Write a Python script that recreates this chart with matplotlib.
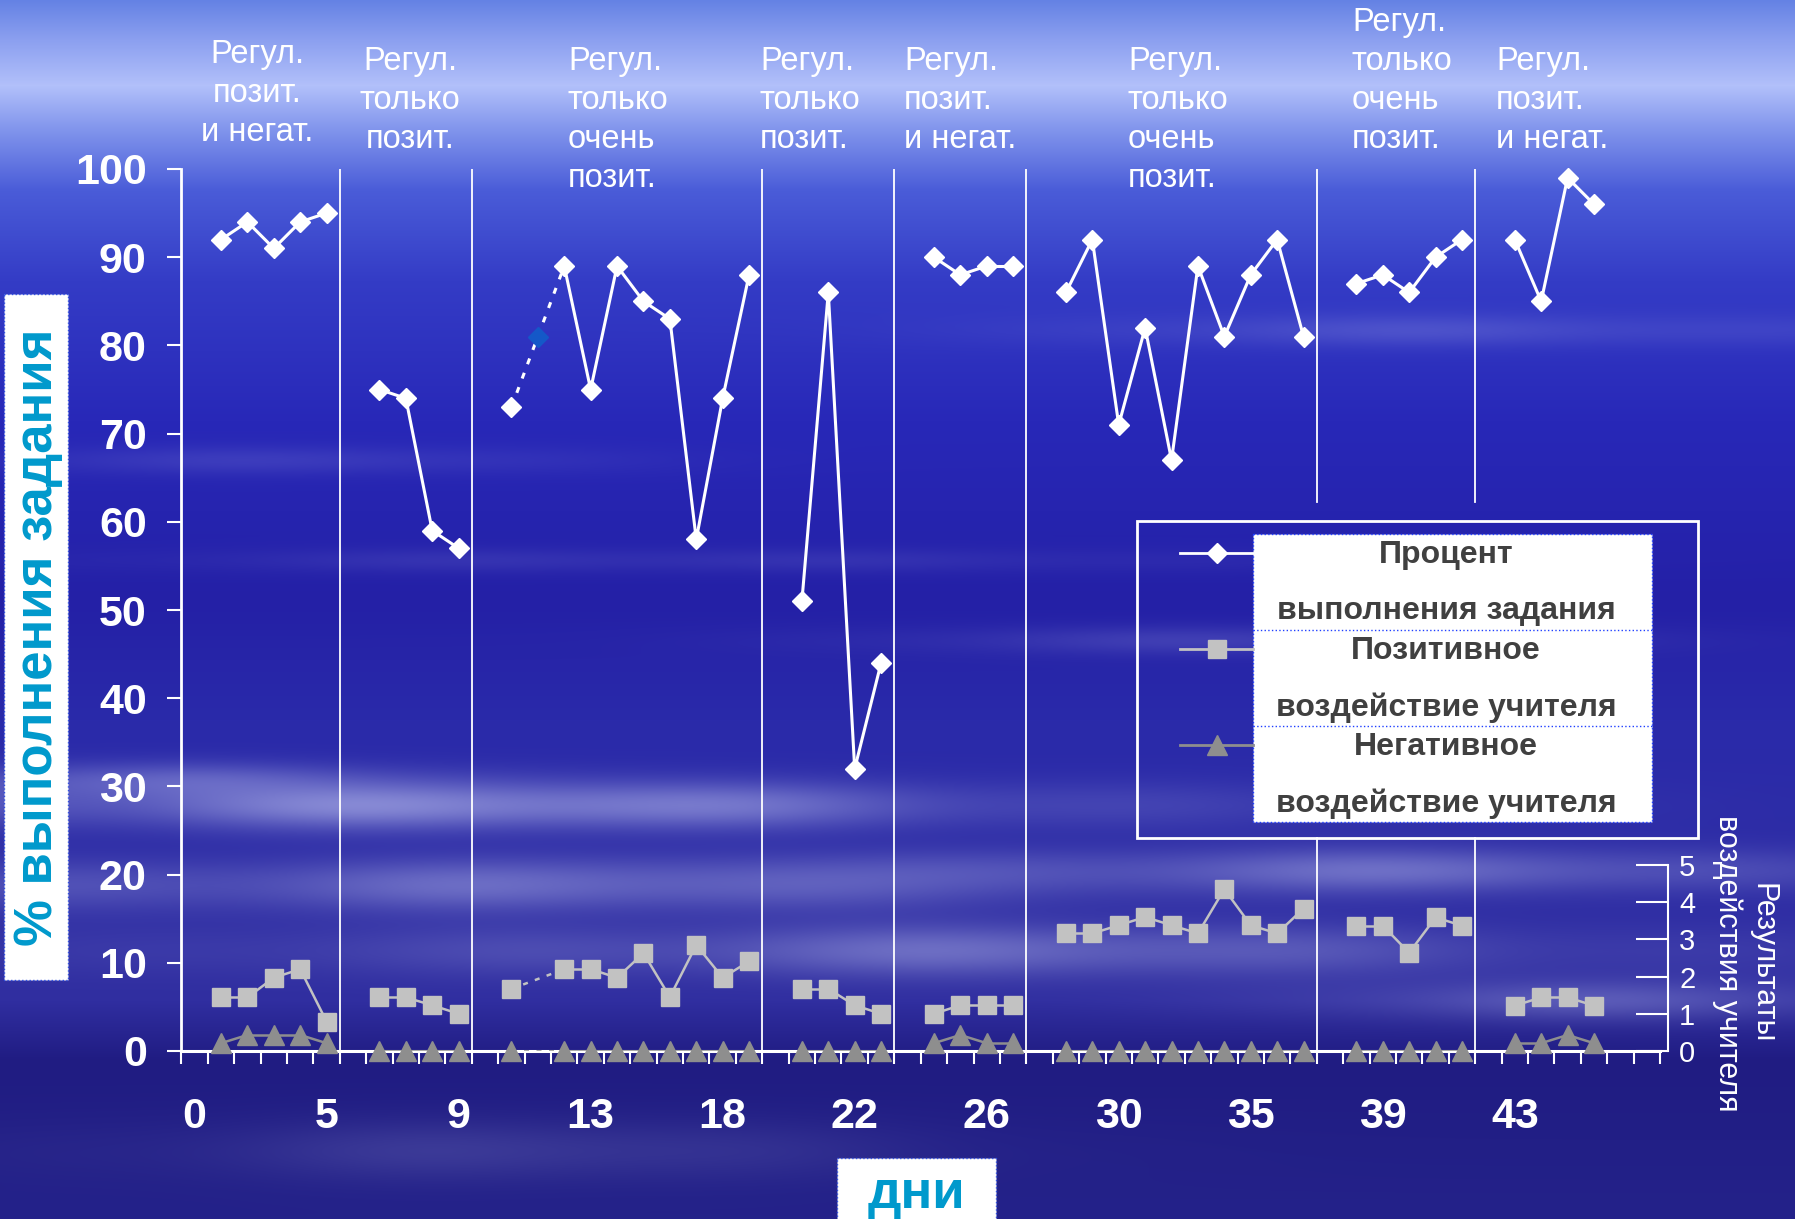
import numpy as np
import matplotlib
matplotlib.use('Agg')
import matplotlib.pyplot as plt
from matplotlib.patches import Rectangle
from matplotlib.ticker import NullFormatter

plt.rcParams['font.family'] = ['Liberation Sans', 'DejaVu Sans']

# ---------------- data ----------------
phase_labels = ['Регул.\nпозит.\nи негат.',
                'Регул.\nтолько\nпозит.',
                'Регул.\nтолько\nочень\nпозит.',
                'Регул.\nтолько\nпозит.',
                'Регул.\nпозит.\nи негат.',
                'Регул.\nтолько\nочень\nпозит.',
                'Регул.\nтолько\nочень\nпозит.',
                'Регул.\nпозит.\nи негат.']
phase_first_day = [1, 6, 10, 20, 24, 28, 38, 43]

# % of task done (left axis)
task_pct = [[92, 94, 91, 94, 95],
            [75, 74, 59, 57],
            [73, 81, 89, 75, 89, 85, 83, 58, 74, 88],
            [51, 86, 32, 44],
            [90, 88, 89, 89],
            [86, 92, 71, 82, 67, 89, 81, 88, 92, 81],
            [87, 88, 86, 90, 92],
            [92, 85, 99, 96]]
# teacher influence (right axis)
positive = [[1.44, 1.44, 1.97, 2.2, 0.79],
            [1.44, 1.44, 1.23, 1.0],
            [1.67, None, 2.2, 2.2, 1.97, 2.63, 1.45, 2.85, 1.97, 2.41],
            [1.67, 1.67, 1.23, 1.0],
            [1.0, 1.23, 1.23, 1.23],
            [3.16, 3.16, 3.38, 3.6, 3.38, 3.16, 4.35, 3.38, 3.16, 3.83],
            [3.37, 3.37, 2.64, 3.59, 3.37],
            [1.22, 1.44, 1.44, 1.22]]
negative = [[0.21, 0.43, 0.43, 0.43, 0.21],
            [0, 0, 0, 0],
            [0, None, 0, 0, 0, 0, 0, 0, 0, 0],
            [0, 0, 0, 0],
            [0.21, 0.43, 0.21, 0.21],
            [0, 0, 0, 0, 0, 0, 0, 0, 0, 0],
            [0, 0, 0, 0, 0],
            [0.21, 0.21, 0.43, 0.21]]
estimated_day = 11   # value for this day is estimated (blue marker, dotted)

legend_rows = [('Процент', 'выполнения задания'),
               ('Позитивное', 'воздействие учителя'),
               ('Негативное', 'воздействие учителя')]

# category axis: days, one empty slot after each phase
days = ['0']
for first, vals in zip(phase_first_day, task_pct):
    days += [str(first + k) for k in range(len(vals))] + ['']

# ---------------- figure ----------------
W, H = 1795, 1219
fig = plt.figure(figsize=(W / 100, H / 100), dpi=100)

# background: blue sky / water gradient with soft haze streaks
ys = np.arange(H)
stop_y = [0, 40, 85, 130, 190, 280, 420, 600, 720, 1000, 1060, 1219]
stop_c = [(100, 130, 228), (140, 160, 240), (178, 192, 250), (128, 148, 236),
          (74, 92, 216), (52, 60, 198), (40, 40, 184), (36, 32, 166),
          (42, 42, 170), (48, 46, 160), (32, 28, 130), (36, 34, 138)]
base = np.stack([np.interp(ys, stop_y, [c[i] for c in stop_c]) for i in range(3)], -1)
img = np.repeat(base[:, None, :], W, axis=1)
yy = ys[:, None]
xx = np.arange(W)[None, :]
haze = [(450, 805, 650, 24, 0.45), (450, 885, 520, 26, 0.35), (1350, 870, 520, 22, 0.3),
        (950, 950, 650, 26, 0.3), (1500, 330, 420, 16, 0.15), (250, 460, 320, 14, 0.12),
        (1600, 1000, 300, 20, 0.2), (500, 1150, 400, 30, 0.12), (700, 560, 500, 12, 0.1),
        (1250, 640, 380, 14, 0.12), (150, 780, 260, 18, 0.3)]
cloud = np.array([205, 210, 248])
for cx, cy, sx, sy, a in haze:
    wobble = 1 + 0.35 * np.sin(xx / 97.0 + cy) * np.sin(xx / 233.0 + cx)
    g = a * wobble * np.exp(-((xx - cx) / sx) ** 2 - ((yy - cy) / sy) ** 2)
    img = img + (cloud - img) * np.clip(g, 0, 1)[..., None]
bg = fig.add_axes([0, 0, 1, 1], zorder=0)
bg.imshow(np.clip(img, 0, 255).astype(np.uint8), extent=(0, W, H, 0), aspect='auto')
bg.set_axis_off()


def px_rect(x0, y0, x1, y1):
    return [x0 / W, 1 - y1 / H, (x1 - x0) / W, (y1 - y0) / H]


AX_L, AX_R, AX_T, AX_B = 181.4, 1660, 169, 1051
ax = fig.add_axes(px_rect(AX_L, AX_T, AX_R, AX_B), zorder=2)
ax.patch.set_visible(False)
ax.set_xlim(-0.5, 55.5)
ax.set_ylim(0, 100)
for s in ['top', 'right']:
    ax.spines[s].set_visible(False)
ax.spines['left'].set_color('white')
ax.spines['left'].set_linewidth(2)
ax.spines['bottom'].set_color('white')
ax.spines['bottom'].set_linewidth(2.2)

ax.set_yticks(range(0, 101, 10))
ax.tick_params(axis='y', colors='white', labelsize=31, length=10, width=1.5, pad=15)
for lab in ax.get_yticklabels():
    lab.set_fontweight('bold')

ax.set_xticks(np.arange(-0.5, 56, 1))
ax.xaxis.set_major_formatter(NullFormatter())
label_idx = list(range(0, 51, 5))
ax.set_xticks(label_idx, minor=True)
ax.set_xticklabels([days[i] for i in label_idx], minor=True, fontweight='bold')
ax.tick_params(axis='x', which='major', colors='white', length=9.4, width=1.5)
ax.tick_params(axis='x', which='minor', length=0, pad=33, labelsize=31, labelcolor='white')

px_per_unit2 = 37.2
ax2 = ax.twinx()
ax2.set_ylim(0, (AX_B - AX_T) / px_per_unit2)
for s in ['top', 'left', 'bottom']:
    ax2.spines[s].set_visible(False)
ax2.spines['right'].set_position(('axes', 1.0054))
ax2.spines['right'].set_bounds(0, 5)
ax2.spines['right'].set_color('white')
ax2.spines['right'].set_linewidth(1.5)
ax2.set_yticks(range(6))
ax2.tick_params(axis='y', colors='white', labelsize=21, direction='in', length=22.7,
                width=1.5, pad=8)

# phase change lines (broken where the legend sits)
legend_box = (1137, 520.5, 1697.5, 838)
hide_lo = (AX_B - legend_box[3]) / (AX_B - AX_T) * 100
hide_hi = (AX_B - 502) / (AX_B - AX_T) * 100
gap_idx = [i for i, d in enumerate(days) if d == ''][:-1]
for g in gap_idx:
    x = g - 0.5
    xpix = AX_L + (x + 0.5) * (AX_R - AX_L) / 56
    if legend_box[0] < xpix < legend_box[2]:
        ax.plot([x, x], [0, hide_lo], color='white', lw=1.3, zorder=1)
        ax.plot([x, x], [hide_hi, 100], color='white', lw=1.3, zorder=1)
    else:
        ax.plot([x, x], [0, 100], color='white', lw=1.3, zorder=1)


def draw_phase(axis, xs, vals, dlist, color, lw, marker, ms, est_color=None):
    pts = [(x, v, d) for x, v, d in zip(xs, vals, dlist) if v is not None]
    for (x0, y0, d0), (x1, y1, d1) in zip(pts[:-1], pts[1:]):
        dotted = (x1 - x0 > 1) or estimated_day in (d0, d1)
        axis.plot([x0, x1], [y0, y1], color=color, lw=lw,
                  ls=(0, (2, 3)) if dotted else '-', zorder=3)
    for x, v, d in pts:
        c = est_color if (est_color and d == estimated_day) else color
        axis.plot(x, v, marker=marker, ms=ms, color=c, mec=c, ls='none',
                  zorder=4, clip_on=False)


for k, first in enumerate(phase_first_day):
    dl = [first + j for j in range(len(task_pct[k]))]
    xs = [days.index(str(d)) for d in dl]
    draw_phase(ax2, xs, negative[k], dl, '#8e8e8e', 1.8, '^', 15)
    draw_phase(ax2, xs, positive[k], dl, '#c2c2c2', 1.8, 's', 13)
    draw_phase(ax, xs, task_pct[k], dl, 'white', 2.2, 'D', 10.5, est_color='#1458c8')

# ---------------- overlay: titles, legend, phase labels ----------------
ov = fig.add_axes([0, 0, 1, 1], zorder=5)
ov.set_xlim(0, W)
ov.set_ylim(H, 0)
ov.set_axis_off()

label_pos = [(257, 'center', 39), (410, 'center', 46), (568, 'left', 46), (760, 'left', 46),
             (904, 'left', 46), (1128, 'left', 46), (1352, 'left', 7), (1496, 'left', 46)]
for txt, (x, ha, y) in zip(phase_labels, label_pos):
    ov.text(x, y, txt, ha=ha, va='top', color='white', fontsize=23.5, linespacing=1.33)

# y axis title
ov.add_patch(Rectangle((4, 294), 64, 686, fc='white', ec='#3050e0', ls=':', lw=1))
ov.text(38, 637, '% выполнения задания', rotation=90, ha='center', va='center',
        color='#0099cc', fontsize=38, fontweight='bold')

# x axis title
ov.add_patch(Rectangle((837, 1158), 159, 80, fc='white', ec='#3050e0', ls=':', lw=1))
ov.text(916, 1208, 'дни', ha='center', va='baseline', color='#0099cc',
        fontsize=38, fontweight='bold')

# right axis title
ov.text(1745, 963, 'Результаты\nвоздействия учителя', rotation=270, ha='center',
        va='center', multialignment='center', color='white', fontsize=22)

# legend
lx0, ly0, lx1, ly1 = legend_box
ov.add_patch(Rectangle((lx0, ly0), lx1 - lx0, ly1 - ly0, fc='none', ec='white', lw=2))
tb = (1252.7, 533.9, 1652.3, 822.3)
ov.add_patch(Rectangle((tb[0], tb[1]), tb[2] - tb[0], tb[3] - tb[1], fc='white',
                       ec='#2040ff', ls=':', lw=1))
row_h = (tb[3] - tb[1]) / 3
for r in (1, 2):
    yv = tb[1] + r * row_h
    ov.plot([tb[0], tb[2]], [yv, yv], color='#2040ff', ls=':', lw=1)
styles = [('white', 'D', 10.5), ('#c2c2c2', 's', 13), ('#8e8e8e', '^', 15)]
for r, ((l1, l2), (c, m, ms)) in enumerate(zip(legend_rows, styles)):
    top = tb[1] + r * row_h
    ym = top + 0.2 * row_h
    ov.plot([1180, tb[0]], [ym, ym], color=c, lw=2)
    ov.plot(1217, ym, marker=m, ms=ms, color=c, mec=c)
    ov.text(1446, top + 0.3 * row_h, l1, ha='center', va='baseline', color='#404040',
            fontsize=23, fontweight='bold')
    ov.text(1446, top + 0.89 * row_h, l2, ha='center', va='baseline', color='#404040',
            fontsize=23, fontweight='bold')

fig.savefig('out.png', dpi=100)
